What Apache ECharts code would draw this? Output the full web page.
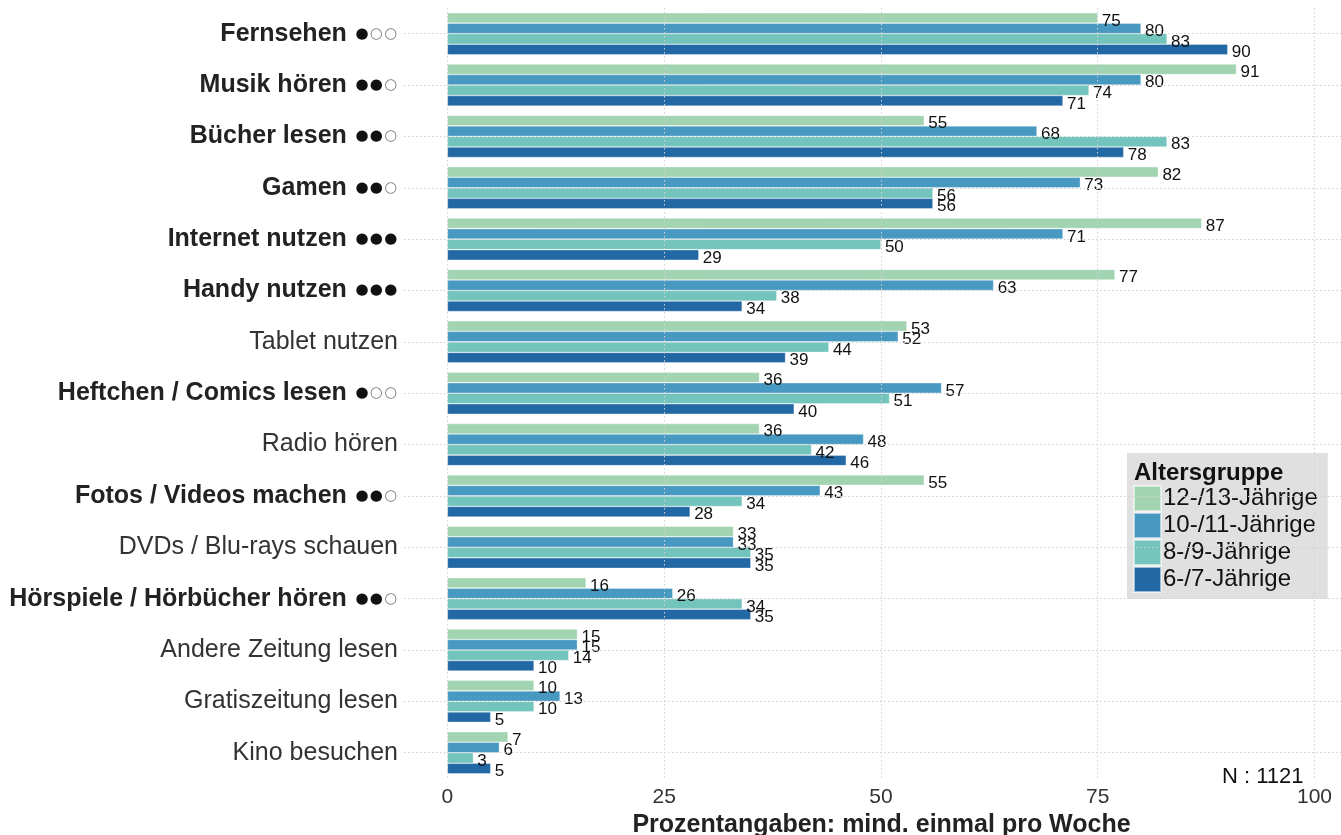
<!DOCTYPE html>
<html>
<head>
<meta charset="utf-8">
<script src="https://cdn.jsdelivr.net/npm/echarts@6/dist/echarts.min.js"></script>
<style>
  html, body { margin: 0; padding: 0; background: #fff; }
  #main { width: 1341px; height: 835px; }
</style>
</head>
<body>
<div id="main"></div>
<script>
const categories = [
  "Fernsehen", "Musik hören", "Bücher lesen", "Gamen", "Internet nutzen",
  "Handy nutzen", "Tablet nutzen", "Heftchen / Comics lesen", "Radio hören",
  "Fotos / Videos machen", "DVDs / Blu-rays schauen", "Hörspiele / Hörbücher hören",
  "Andere Zeitung lesen", "Gratiszeitung lesen", "Kino besuchen"
];
// number of filled dots next to the label (0 = plain label)
const dotLevels = [1, 2, 2, 2, 3, 3, 0, 1, 0, 2, 0, 2, 0, 0, 0];

const age12_13 = [75, 91, 55, 82, 87, 77, 53, 36, 36, 55, 33, 16, 15, 10, 7];
const age10_11 = [80, 80, 68, 73, 71, 63, 52, 57, 48, 43, 33, 26, 15, 13, 6];
const age8_9   = [83, 74, 83, 56, 50, 38, 44, 51, 42, 34, 35, 34, 14, 10, 3];
const age6_7   = [90, 71, 78, 56, 29, 34, 39, 40, 46, 28, 35, 35, 10, 5, 5];

const seriesNames = ["12-/13-Jährige", "10-/11-Jährige", "8-/9-Jährige", "6-/7-Jährige"];
const seriesColors = ["#a3d4b2", "#4899c1", "#73c4bc", "#2268a5"];
const xTicks = [0, 25, 50, 75, 100];

const font = "Liberation Sans, Arial, sans-serif";

function makeBar(name, data, color) {
  return {
    name: name,
    type: "bar",
    data: data,
    barGap: "0%",
    barCategoryGap: "18%",
    z: 3,
    itemStyle: { color: color, borderColor: "rgba(255,255,255,0.55)", borderWidth: 0.6 },
    label: {
      show: true,
      position: "right",
      distance: 4,
      offset: [0, 3],
      color: "#111",
      fontSize: 17,
      fontFamily: font
    }
  };
}

function dots(lvl) {
  let s = "";
  for (let i = 0; i < 3; i++) s += i < lvl ? "{f|●}" : "{o|○}";
  return s;
}

const chart = echarts.init(document.getElementById("main"));

chart.setOption({
  animation: false,
  grid: { left: 404, right: 0, top: 8, bottom: 56.6, containLabel: false, outerBoundsMode: "none" },
  xAxis: {
    type: "value",
    min: -5,
    max: 103.06,
    splitLine: { show: false },
    axisLine: { show: false },
    axisTick: { show: false },
    axisLabel: {
      customValues: xTicks,
      fontSize: 21,
      color: "#333",
      fontFamily: font,
      margin: 8
    },
    name: "Prozentangaben: mind. einmal pro Woche",
    nameLocation: "middle",
    nameGap: 31,
    nameTextStyle: { fontSize: 25, fontWeight: "bold", color: "#222", fontFamily: font, padding: [0, 0, 0, 18] }
  },
  yAxis: {
    type: "category",
    inverse: true,
    data: categories,
    axisLine: { show: false },
    axisTick: { show: false },
    splitLine: { show: false },
    axisLabel: {
      margin: 6,
      formatter: function (value, idx) {
        const lvl = dotLevels[idx];
        if (!lvl) return "{n|" + value + "}";
        return "{b|" + value + "}{s| }" + dots(lvl);
      },
      rich: {
        n: { fontSize: 25, color: "#333", fontFamily: font },
        b: { fontSize: 25, color: "#222", fontWeight: "bold", fontFamily: font },
        s: { fontSize: 25, width: 8, fontFamily: font },
        f: { fontSize: 15, color: "#111", fontFamily: "DejaVu Sans", width: 14.4, align: "center" },
        o: { fontSize: 15, color: "#777", fontFamily: "DejaVu Sans", width: 14.4, align: "center" }
      }
    }
  },
  legend: {
    orient: "vertical",
    left: 1127,
    top: 453,
    backgroundColor: "#e0e0e0",
    padding: [32, 10, 6, 6],
    itemWidth: 27,
    itemHeight: 25,
    itemGap: 0,
    icon: "rect",
    data: seriesNames,
    textStyle: { fontSize: 24, color: "#111", fontFamily: font, padding: [0, 0, 0, -3] }
  },
  graphic: [
    {
      type: "text",
      x: 1134,
      y: 473,
      z: 100,
      style: {
        text: "Altersgruppe",
        font: "bold 24px Liberation Sans, Arial, sans-serif",
        fill: "#111",
        verticalAlign: "middle"
      }
    },
    {
      type: "text",
      x: 1222,
      y: 777,
      style: {
        text: "N : 1121",
        font: "22px Liberation Sans, Arial, sans-serif",
        fill: "#111",
        verticalAlign: "middle"
      }
    }
  ],
  series: [
    {
      type: "line",
      data: [],
      silent: true,
      z: 1,
      markLine: {
        silent: true,
        symbol: "none",
        label: { show: false },
        lineStyle: { color: "#d0d0d0", type: [1.5, 2.5], width: 1 },
        data: xTicks.map(v => ({ xAxis: v })).concat(categories.map(c => ({ yAxis: c })))
      }
    },
    makeBar(seriesNames[0], age12_13, seriesColors[0]),
    makeBar(seriesNames[1], age10_11, seriesColors[1]),
    makeBar(seriesNames[2], age8_9, seriesColors[2]),
    makeBar(seriesNames[3], age6_7, seriesColors[3])
  ]
});
</script>
</body>
</html>
